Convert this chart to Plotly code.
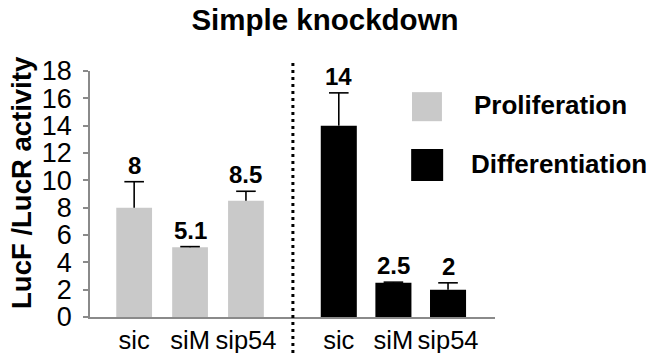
import plotly.graph_objects as go

# siRNA conditions and luciferase ratios (LucF / LucR)
categories = ["sic", "siM", "sip54"]
prolif_values = [8, 5.1, 8.5]
prolif_err = [1.9, 0.05, 0.7]
diff_values = [14, 2.5, 2]
diff_err = [2.4, 0.05, 0.5]
value_labels_prolif = ["8", "5.1", "8.5"]
value_labels_diff = ["14", "2.5", "2"]
y_ticks = list(range(0, 19, 2))

GRAY = "#c9c9c9"
BLACK = "#000000"
AXIS = "#8a8a8a"
FONT = "Liberation Sans, Arial, sans-serif"

fig = go.Figure()

# upper whisker stems (no caps at the bar top)
stem = dict(type="data", symmetric=False, color=BLACK, thickness=1.6, width=0)

fig.add_trace(go.Bar(
    x=categories, y=prolif_values, name="Proliferation",
    marker=dict(color=GRAY, line=dict(width=0)), width=0.64,
    error_y=dict(array=prolif_err, arrayminus=[0, 0, 0], **stem),
    xaxis="x", yaxis="y", showlegend=False,
))
fig.add_trace(go.Bar(
    x=categories, y=diff_values, name="Differentiation",
    marker=dict(color=BLACK, line=dict(width=0)), width=0.66,
    error_y=dict(array=diff_err, arrayminus=[0, 0, 0], **stem),
    xaxis="x2", yaxis="y", showlegend=False,
))

# caps at the top of each whisker
for xa, vals, errs in (("x", prolif_values, prolif_err), ("x2", diff_values, diff_err)):
    fig.add_trace(go.Scatter(
        x=categories, y=[v + e for v, e in zip(vals, errs)], mode="markers",
        marker=dict(symbol="line-ew", size=14, line=dict(color=BLACK, width=1.6)),
        xaxis=xa, yaxis="y", showlegend=False, hoverinfo="skip", cliponaxis=False,
    ))

annotations = []
# value labels above each error bar
for cat, v, e, t in zip(categories, prolif_values, prolif_err, value_labels_prolif):
    annotations.append(dict(x=cat, y=v + e, xref="x", yref="y", text=t,
                            showarrow=False, yanchor="bottom", yshift=1,
                            font=dict(family=FONT, size=24, color=BLACK, weight="bold")))
for cat, v, e, t in zip(categories, diff_values, diff_err, value_labels_diff):
    annotations.append(dict(x=cat, y=v + e, xref="x2", yref="y", text=t,
                            showarrow=False, yanchor="bottom", yshift=1,
                            font=dict(family=FONT, size=24, color=BLACK, weight="bold")))

# y-axis title
annotations.append(dict(x=0, y=0.545, xref="paper", yref="paper", xshift=-68,
                        text="LucF /LucR activity", textangle=-90, showarrow=False,
                        xanchor="center", yanchor="middle",
                        font=dict(family=FONT, size=27.5, color=BLACK, weight="bold")))

# legend text
annotations.append(dict(x=1, y=0.86, xref="paper", yref="paper", xshift=-23,
                        text="Proliferation", showarrow=False, xanchor="left", yanchor="middle",
                        font=dict(family=FONT, size=26, color=BLACK, weight="bold")))
annotations.append(dict(x=1, y=0.62, xref="paper", yref="paper", xshift=-26,
                        text="Differentiation", showarrow=False, xanchor="left", yanchor="middle",
                        font=dict(family=FONT, size=26, color=BLACK, weight="bold")))

shapes = [
    # dotted separator between the two conditions
    dict(type="line", xref="paper", yref="paper", x0=0.501, x1=0.501, y0=-0.146, y1=1.033,
         line=dict(color=BLACK, width=3, dash="3px,4px")),
    # legend swatches
    dict(type="rect", xref="paper", yref="paper", x0=0.795, x1=0.869, y0=0.796, y1=0.914,
         fillcolor=GRAY, line=dict(width=0)),
    dict(type="rect", xref="paper", yref="paper", x0=0.793, x1=0.872, y0=0.553, y1=0.683,
         fillcolor=BLACK, line=dict(width=0)),
]

xaxis_common = dict(
    type="category", showline=True, linecolor=AXIS, linewidth=1.5,
    ticks="", showgrid=False, zeroline=False, automargin=False,
    tickfont=dict(family=FONT, size=25.5, color=BLACK),
)

fig.update_layout(
    width=651, height=353,
    margin=dict(l=90, r=156, t=71, b=36),
    paper_bgcolor="white", plot_bgcolor="white",
    title=dict(text="<b>Simple knockdown</b>", x=325 / 651, xanchor="center",
               y=1 - 20 / 353, yanchor="middle",
               font=dict(family=FONT, size=29.5, color=BLACK)),
    xaxis=dict(domain=[0, 0.501], range=[-0.79, 2.84], anchor="y", **xaxis_common),
    xaxis2=dict(domain=[0.501, 1], range=[-0.84, 2.86], anchor="y", **xaxis_common),
    yaxis=dict(range=[0, 18], tickvals=y_ticks, ticks="outside", ticklen=5,
               tickcolor=AXIS, tickwidth=1.5, showline=True, linecolor=AXIS, linewidth=1.5,
               showgrid=False, zeroline=False, anchor="x", automargin=False,
               ticklabelstandoff=6,
               tickfont=dict(family=FONT, size=27, color=BLACK)),
    annotations=annotations,
    shapes=shapes,
    showlegend=False,
    barmode="overlay",
)

fig.write_html("out.html")
